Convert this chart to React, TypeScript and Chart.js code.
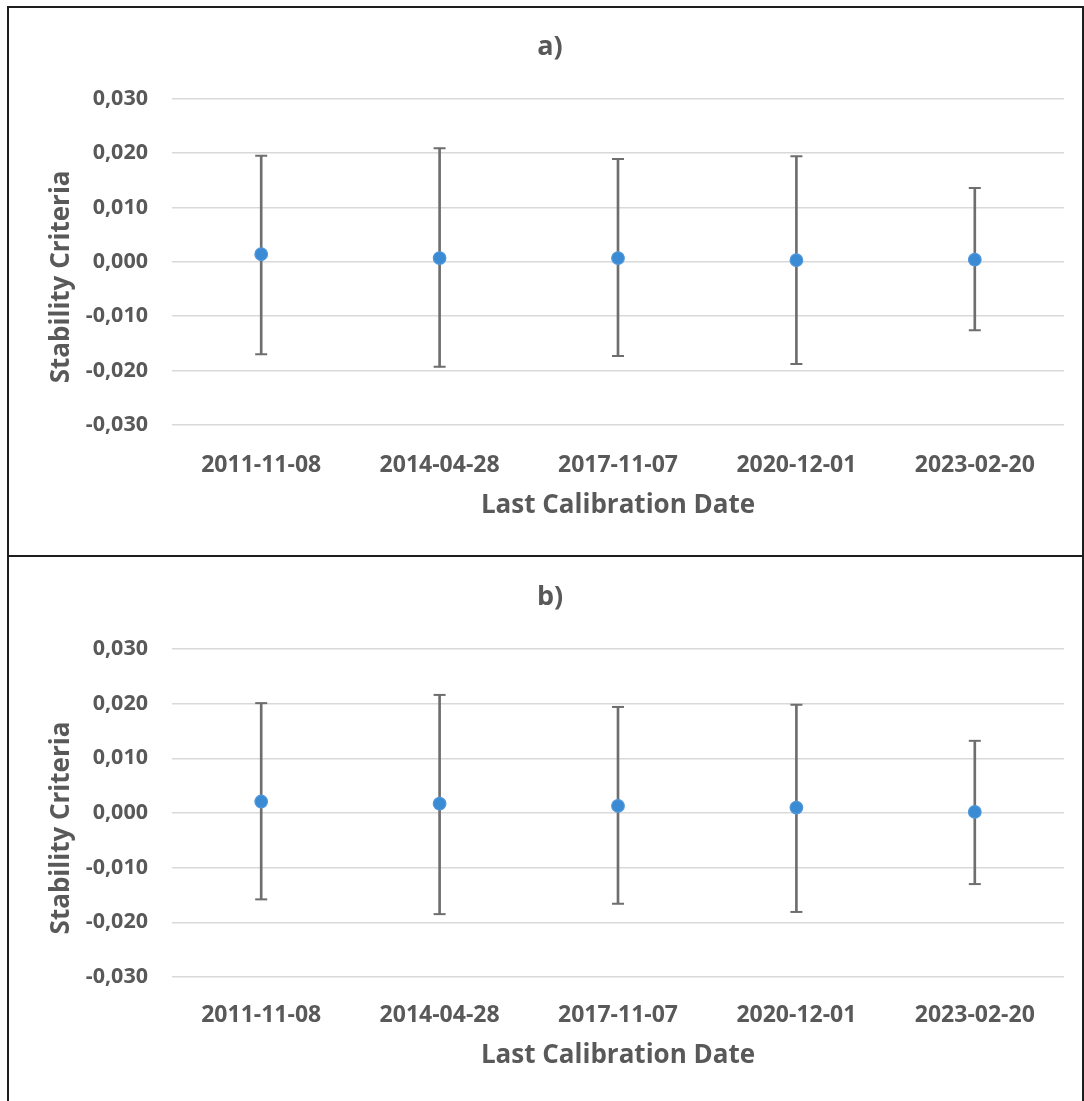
import React, { useEffect, useRef } from "react";
import { Chart, registerables } from "chart.js";

Chart.register(...registerables);

// ---- data ----
const categories = ["2011-11-08", "2014-04-28", "2017-11-07", "2020-12-01", "2023-02-20"];
const yTickValues = [-0.03, -0.02, -0.01, 0, 0.01, 0.02, 0.03];

const panelTitles = ["a)", "b)"];
const xAxisTitle = "Last Calibration Date";
const yAxisTitle = "Stability Criteria";

const meanA = [0.0014, 0.0007, 0.0007, 0.0003, 0.0004];
const upperA = [0.0195, 0.0209, 0.0189, 0.0194, 0.0136];
const lowerA = [-0.017, -0.0193, -0.0173, -0.0188, -0.0126];

const meanB = [0.0021, 0.0017, 0.0013, 0.001, 0.0002];
const upperB = [0.0201, 0.0216, 0.0194, 0.0198, 0.0132];
const lowerB = [-0.0158, -0.0185, -0.0166, -0.0181, -0.013];

// ---- style ----
const FAMILY = "'Open Sans', 'Noto Sans', sans-serif";
const TEXT = "#595959";
const GRID = "#d9d9d9";
const ERR = "#6e6e6e";
const DOT = "#3a8ad4";
const DOT_BORDER = "#4f98dc";

const TITLE_F = 27;
const TICK_F = 21.5;
const XLABEL_F = 23;
const XTITLE_F = 26;
const YTITLE_F = 26;
const LH = 1.2;

function fmt(v: number): string {
  let r = Math.round(v * 1000) / 1000;
  if (Math.abs(r) < 1e-9) r = 0;
  return r.toFixed(3).replace(".", ",");
}

const yTitlePlugin = {
  id: "yTitleCustom",
  afterDraw(chart: any, _args: any, opts: any) {
    const { ctx, chartArea } = chart;
    ctx.save();
    ctx.font = `bold ${YTITLE_F}px ${FAMILY}`;
    ctx.fillStyle = TEXT;
    ctx.textAlign = "center";
    ctx.textBaseline = "middle";
    ctx.translate(opts.x, (chartArea.top + chartArea.bottom) / 2 + opts.dy);
    ctx.rotate(-Math.PI / 2);
    ctx.fillText(opts.text, 0, 0);
    ctx.restore();
  },
};

type Geo = {
  H: number;
  top: number;
  bottom: number;
  titleC: number;
  xLabelC: number;
  xTitleC: number;
};

function Panel(props: {
  title: string;
  mean: number[];
  upper: number[];
  lower: number[];
  geo: Geo;
}) {
  const ref = useRef<HTMLCanvasElement | null>(null);
  const { title, mean, upper, lower, geo } = props;

  useEffect(() => {
    if (!ref.current) return;
    const tlh = TITLE_F * LH;
    const xlh = XLABEL_F * LH;
    const xtlh = XTITLE_F * LH;
    const chart = new Chart(ref.current, {
      type: "bar",
      data: {
        labels: categories,
        datasets: [
          {
            type: "line",
            data: mean,
            showLine: false,
            pointRadius: 6.3,
            pointBackgroundColor: DOT,
            pointBorderColor: DOT_BORDER,
            pointBorderWidth: 1.2,
            order: 0,
          } as any,
          {
            type: "line",
            data: upper,
            showLine: false,
            pointStyle: "line",
            pointRadius: 6,
            pointBorderWidth: 2,
            pointBorderColor: ERR,
            order: 1,
          } as any,
          {
            type: "line",
            data: lower,
            showLine: false,
            pointStyle: "line",
            pointRadius: 6,
            pointBorderWidth: 2,
            pointBorderColor: ERR,
            order: 1,
          } as any,
          {
            type: "bar",
            data: lower.map((l, i) => [l, upper[i]]),
            backgroundColor: ERR,
            borderWidth: 0,
            barThickness: 2,
            grouped: false,
            order: 2,
          } as any,
        ],
      },
      options: {
        responsive: false,
        maintainAspectRatio: false,
        animation: false,
        events: [],
        layout: { padding: { left: 27, right: 17, top: 0, bottom: 0 } },
        plugins: {
          legend: { display: false },
          tooltip: { enabled: false },
          title: {
            display: true,
            text: title,
            color: TEXT,
            font: { family: FAMILY, size: TITLE_F, weight: "bold", lineHeight: LH },
            padding: { top: geo.titleC - tlh / 2, bottom: geo.top - geo.titleC - tlh / 2 },
          },
          yTitleCustom: { text: yAxisTitle, x: 53, dy: 15 },
        } as any,
        scales: {
          x: {
            type: "category",
            offset: true,
            grid: { display: false, drawTicks: false },
            border: { display: false },
            ticks: {
              color: TEXT,
              font: { family: FAMILY, size: XLABEL_F, weight: "bold", lineHeight: LH },
              padding: geo.xLabelC - geo.bottom - xlh / 2,
              maxRotation: 0,
              autoSkip: false,
            },
            title: {
              display: true,
              text: xAxisTitle,
              color: TEXT,
              font: { family: FAMILY, size: XTITLE_F, weight: "bold", lineHeight: LH },
              padding: { top: 0, bottom: geo.H - geo.xTitleC - xtlh / 2 },
            },
            afterFit: (s: any) => {
              s.height = geo.H - geo.bottom;
            },
          },
          y: {
            min: -0.03,
            max: 0.03,
            afterBuildTicks: (s: any) => {
              s.ticks = yTickValues.map((v) => ({ value: v }));
            },
            grid: { color: GRID, lineWidth: 1.5, drawTicks: false },
            border: { display: false },
            ticks: {
              color: TEXT,
              padding: 24,
              font: { family: FAMILY, size: TICK_F, weight: "bold", lineHeight: LH },
              callback: (v: any) => fmt(Number(v)),
            },
            afterFit: (s: any) => {
              s.width = 136;
            },
          },
        },
      } as any,
      plugins: [yTitlePlugin as any],
    });
    return () => chart.destroy();
  }, [title, mean, upper, lower, geo]);

  return <canvas ref={ref} width={1072} height={geo.H} style={{ display: "block", width: 1072, height: geo.H }} />;
}

const geoA: Geo = { H: 547, top: 90.7, bottom: 417, titleC: 39, xLabelC: 457, xTitleC: 498 };
const geoB: Geo = { H: 547, top: 92, bottom: 420, titleC: 40, xLabelC: 458, xTitleC: 499 };

export default function App() {
  const border = "2px solid #1e1e1e";
  return (
    <div
      style={{
        position: "absolute",
        left: 0,
        top: 0,
        width: 1084,
        height: 1101,
        overflow: "hidden",
        background: "#ffffff",
      }}
    >
      <div
        style={{
          position: "absolute",
          left: 7,
          top: 6,
          width: 1077,
          height: 551,
          border,
          boxSizing: "border-box",
          background: "#fff",
        }}
      >
        <Panel title={panelTitles[0]} mean={meanA} upper={upperA} lower={lowerA} geo={geoA} />
      </div>
      <div
        style={{
          position: "absolute",
          left: 7,
          top: 555,
          width: 1077,
          height: 600,
          border,
          boxSizing: "border-box",
          background: "#fff",
        }}
      >
        <Panel title={panelTitles[1]} mean={meanB} upper={upperB} lower={lowerB} geo={geoB} />
      </div>
    </div>
  );
}
